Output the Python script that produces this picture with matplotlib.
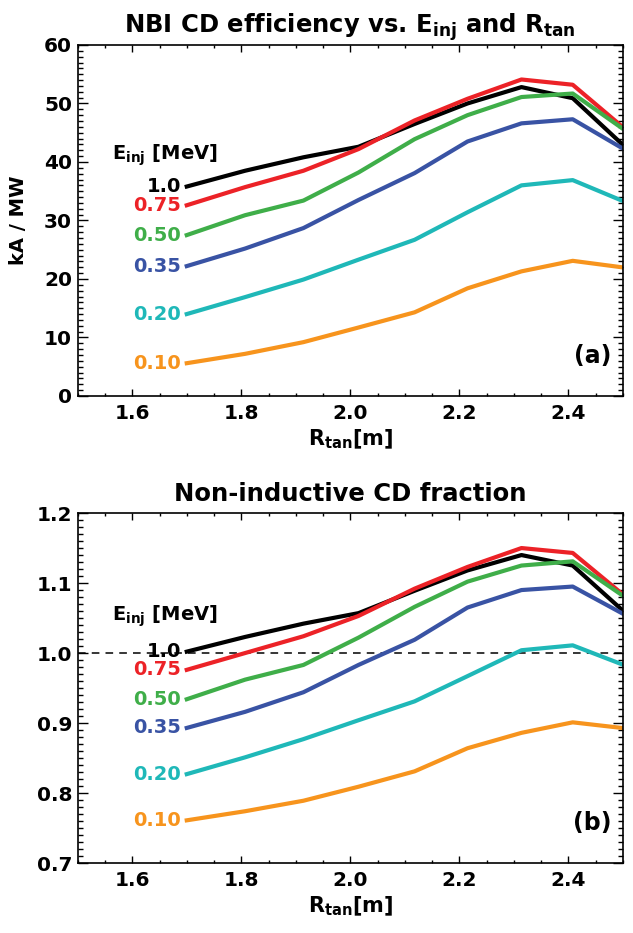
import numpy as np
import matplotlib
matplotlib.use('Agg')
import matplotlib.pyplot as plt
from matplotlib.ticker import MultipleLocator

plt.rcParams['font.family'] = ['DejaVu Sans']
plt.rcParams['font.weight'] = 'bold'
plt.rcParams['axes.labelweight'] = 'bold'
plt.rcParams['axes.titleweight'] = 'bold'
plt.rcParams['mathtext.fontset'] = 'custom'
plt.rcParams['mathtext.rm'] = 'DejaVu Sans:bold'
plt.rcParams['mathtext.it'] = 'DejaVu Sans:bold'
plt.rcParams['mathtext.bf'] = 'DejaVu Sans:bold'

# tangency radius of the beam [m]
r_tan = [1.70, 1.807, 1.914, 2.015, 2.118, 2.215, 2.314, 2.408, 2.498]

# injection energies [MeV] and their labels
e_labels = ['1.0', '0.75', '0.50', '0.35', '0.20', '0.10']
colors = ['#000000', '#ec2227', '#3fae49', '#3953a4', '#1fb8b8', '#f7941d']

# (a) CD efficiency, kA/MW
eff_10 = [35.8, 38.5, 40.8, 42.6, 46.5, 50.0, 52.8, 50.9, 43.1]
eff_075 = [32.6, 35.7, 38.5, 42.2, 47.1, 50.8, 54.1, 53.2, 46.1]
eff_050 = [27.5, 30.9, 33.4, 38.2, 43.9, 48.0, 51.1, 51.7, 45.8]
eff_035 = [22.2, 25.2, 28.7, 33.5, 38.1, 43.5, 46.6, 47.3, 42.4]
eff_020 = [14.0, 16.9, 19.9, 23.3, 26.7, 31.4, 36.0, 36.9, 33.4]
eff_010 = [5.6, 7.2, 9.2, 11.7, 14.3, 18.4, 21.3, 23.1, 22.0]

# (b) non-inductive CD fraction
fni_10 = [1.002, 1.023, 1.042, 1.057, 1.089, 1.118, 1.140, 1.125, 1.062]
fni_075 = [0.976, 1.000, 1.024, 1.053, 1.092, 1.123, 1.150, 1.143, 1.085]
fni_050 = [0.934, 0.962, 0.983, 1.022, 1.066, 1.102, 1.125, 1.131, 1.083]
fni_035 = [0.893, 0.916, 0.944, 0.983, 1.019, 1.065, 1.090, 1.095, 1.057]
fni_020 = [0.827, 0.851, 0.877, 0.904, 0.931, 0.967, 1.004, 1.011, 0.984]
fni_010 = [0.761, 0.774, 0.789, 0.809, 0.831, 0.864, 0.886, 0.901, 0.893]

eff = [eff_10, eff_075, eff_050, eff_035, eff_020, eff_010]
fni = [fni_10, fni_075, fni_050, fni_035, fni_020, fni_010]

fig = plt.figure(figsize=(6.33, 9.33), dpi=100)
ax1 = fig.add_axes([0.1228, 0.5756, 0.8612, 0.3762])
ax2 = fig.add_axes([0.1228, 0.0750, 0.8612, 0.3751])


def style(ax, ymaj, ymin):
    ax.set_xlim(1.5, 2.5)
    ax.xaxis.set_major_locator(MultipleLocator(0.2))
    ax.xaxis.set_minor_locator(MultipleLocator(0.05))
    ax.yaxis.set_major_locator(MultipleLocator(ymaj))
    ax.yaxis.set_minor_locator(MultipleLocator(ymin))
    ax.tick_params(which='both', direction='in', top=True, right=True, width=1)
    ax.tick_params(axis='x', which='major', length=5, labelsize=14.5, pad=6)
    ax.tick_params(axis='x', which='minor', length=2.5)
    ax.tick_params(axis='y', which='major', length=7, labelsize=14.5, pad=4)
    ax.tick_params(axis='y', which='minor', length=3.5)
    for s in ax.spines.values():
        s.set_linewidth(1.2)
    ax.set_xlabel(r'R$_{\rm tan}$[m]', fontsize=15, labelpad=3)


# panel (a)
for y, lab, c in zip(eff, e_labels, colors):
    ax1.plot(r_tan, y, color=c, lw=3)
    ax1.text(1.689, y[0], lab, color=c, fontsize=14, fontweight='bold',
             ha='right', va='center')
ax1.text(1.563, 41.1, r'E$_{\rm inj}$ [MeV]', fontsize=14, ha='left', va='center')
ax1.set_ylim(0, 60)
style(ax1, 10, 1)
ax1.yaxis.set_major_formatter(plt.FormatStrFormatter('%d'))
ax1.set_ylabel('kA / MW', fontsize=14, labelpad=12)
ax1.set_title(r'NBI CD efficiency vs. E$_{\rm inj}$ and R$_{\rm tan}$', fontsize=17.5,
              pad=9)
ax1.text(0.979, 0.114, '(a)', transform=ax1.transAxes, fontsize=17,
         ha='right', va='center')

# panel (b)
ax2.axhline(1.0, color='black', lw=1.1, ls=(0, (5, 4)))
for y, lab, c in zip(fni, e_labels, colors):
    ax2.plot(r_tan, y, color=c, lw=3)
    ax2.text(1.689, y[0], lab, color=c, fontsize=14, fontweight='bold',
             ha='right', va='center')
ax2.text(1.563, 1.052, r'E$_{\rm inj}$ [MeV]', fontsize=14, ha='left', va='center')
ax2.set_ylim(0.7, 1.2)
style(ax2, 0.1, 0.01)
ax2.yaxis.set_major_formatter(plt.FormatStrFormatter('%.1f'))
ax2.set_title('Non-inductive CD fraction', fontsize=17.5, pad=9)
ax2.text(0.979, 0.114, '(b)', transform=ax2.transAxes, fontsize=17,
         ha='right', va='center')

fig.savefig('out.png', dpi=100)
